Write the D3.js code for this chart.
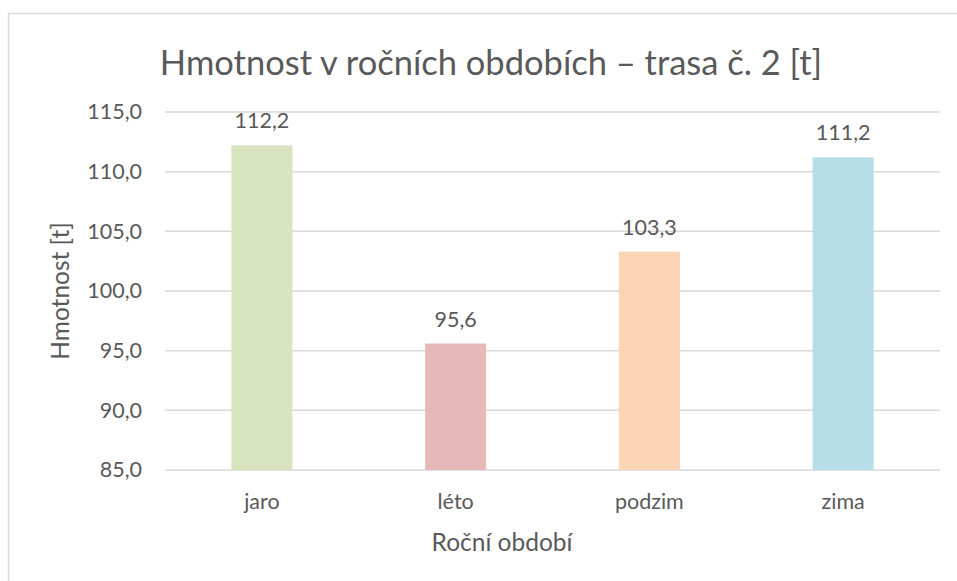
<!DOCTYPE html>
<html>
<head>
<meta charset="utf-8">
<script src="https://cdn.jsdelivr.net/npm/d3@7"></script>
<style>
  body { margin: 0; background: #fff; }
  text { font-family: Lato, "Open Sans", sans-serif; fill: #595959; }
</style>
</head>
<body>
<div id="chart"></div>
<script>
// data
var seasons = ["jaro", "léto", "podzim", "zima"];
var weights = [112.2, 95.6, 103.3, 111.2];
var barColors = ["#d7e4bd", "#e6b9b8", "#fcd5b5", "#b7dde8"];
var yTicks = [85, 90, 95, 100, 105, 110, 115];

var W = 957, H = 581;
var margin = {top: 112, right: 17, bottom: 111, left: 165};
var width = W - margin.left - margin.right,
    height = H - margin.top - margin.bottom;

var svg = d3.select("#chart").append("svg")
    .attr("width", W)
    .attr("height", H);

// chart border
svg.append("rect")
    .attr("x", 8.5).attr("y", 13.5)
    .attr("width", W + 20).attr("height", H + 20)
    .attr("fill", "none")
    .attr("stroke", "#d9d9d9")
    .attr("stroke-width", 1.5);

var g = svg.append("g")
    .attr("transform", "translate(" + margin.left + "," + margin.top + ")");

var x = d3.scaleBand()
    .domain(seasons)
    .range([0, width])
    .paddingInner(0.685)
    .paddingOuter(0.3425);

var y = d3.scaleLinear()
    .domain([85, 115])
    .range([height, 0]);

var fmt = function(d){ return d3.format(".1f")(d).replace(".", ","); };

// gridlines
g.append("g")
    .selectAll("line")
    .data(yTicks)
    .enter().append("line")
    .attr("x1", 0).attr("x2", width)
    .attr("y1", function(d){ return y(d); })
    .attr("y2", function(d){ return y(d); })
    .attr("stroke", "#d9d9d9")
    .attr("stroke-width", 1.5);

// y axis labels
var yAxis = d3.axisLeft(y)
    .tickValues(yTicks)
    .tickSize(0)
    .tickPadding(23)
    .tickFormat(fmt);
g.append("g").call(yAxis)
    .call(function(s){ s.select(".domain").remove(); })
    .selectAll("text")
    .style("font-size", "21.5px")
    .attr("fill", "#595959");

// bars
g.selectAll(".bar")
    .data(weights)
    .enter().append("rect")
    .attr("class", "bar")
    .attr("x", function(d, i){ return x(seasons[i]); })
    .attr("width", x.bandwidth())
    .attr("y", function(d){ return y(d); })
    .attr("height", function(d){ return height - y(d); })
    .attr("fill", function(d, i){ return barColors[i]; });

// value labels
g.selectAll(".lbl")
    .data(weights)
    .enter().append("text")
    .attr("class", "lbl")
    .attr("x", function(d, i){ return x(seasons[i]) + x.bandwidth() / 2; })
    .attr("y", function(d){ return y(d) - 17; })
    .attr("text-anchor", "middle")
    .style("font-size", "21.5px")
    .text(fmt);

// x axis labels
var xAxis = d3.axisBottom(x).tickSize(0).tickPadding(24);
g.append("g")
    .attr("transform", "translate(0," + height + ")")
    .call(xAxis)
    .call(function(s){ s.select(".domain").remove(); })
    .selectAll("text")
    .style("font-size", "21.5px")
    .attr("fill", "#595959");

// title
svg.append("text")
    .attr("x", 491).attr("y", 75)
    .attr("text-anchor", "middle")
    .style("font-size", "34.5px")
    .text("Hmotnost v ročních obdobích – trasa č. 2 [t]");

// axis titles
svg.append("text")
    .attr("transform", "translate(69,291) rotate(-90)")
    .attr("text-anchor", "middle")
    .style("font-size", "24.5px")
    .text("Hmotnost [t]");

svg.append("text")
    .attr("x", 502).attr("y", 551)
    .attr("text-anchor", "middle")
    .style("font-size", "24.5px")
    .text("Roční období");
</script>
</body>
</html>
